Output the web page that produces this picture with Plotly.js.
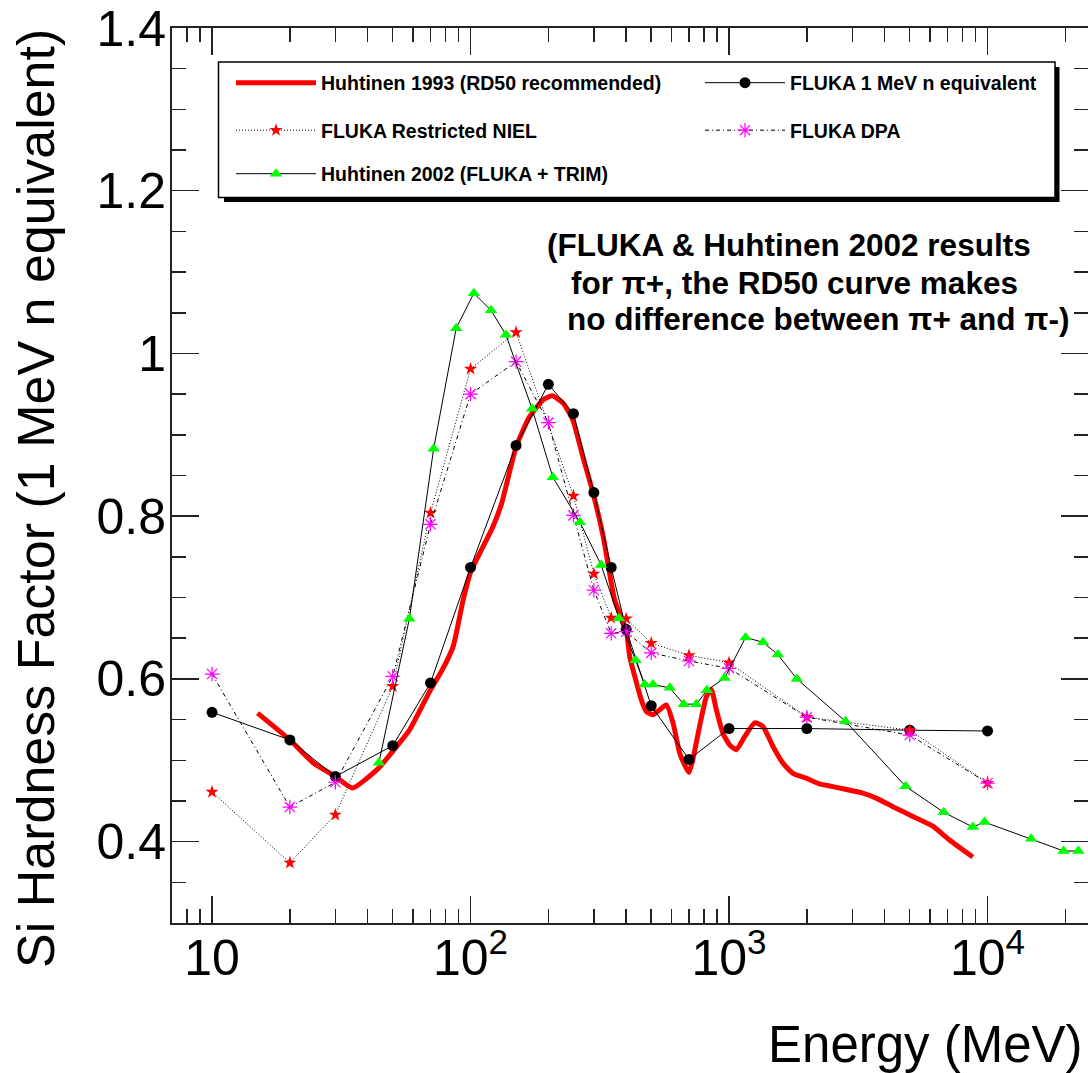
<!DOCTYPE html>
<html>
<head>
<meta charset="utf-8">
<script src="https://cdn.plot.ly/plotly-3.0.1.min.js"></script>
<style>html,body{margin:0;padding:0;background:#fff;}#chart{width:1088px;height:1073px;}</style>
</head>
<body>
<div id="chart"></div>
<script>
// ---------------- data ----------------
// Huhtinen 1993 (RD50 recommended) - red thick curve
const rd50Energy = [15, 20, 24.6, 30, 35, 44, 50, 58, 69.6, 78, 85.7, 93.6, 100, 122, 132, 150, 169, 191, 207, 228, 249, 272, 298, 326, 361, 400, 413, 432, 458, 479, 508, 539, 572, 607, 644, 684, 700, 720, 769, 817, 854, 893, 948, 1005, 1067, 1149, 1256, 1353, 1479, 1616, 1766, 1990, 2239, 2676, 3293, 3707, 4301, 5140, 6140, 7125, 8770];
const rd50Factor = [0.558, 0.525, 0.497, 0.480, 0.466, 0.490, 0.511, 0.537, 0.585, 0.612, 0.640, 0.697, 0.731, 0.787, 0.816, 0.885, 0.922, 0.943, 0.948, 0.939, 0.918, 0.873, 0.828, 0.775, 0.697, 0.660, 0.627, 0.603, 0.574, 0.560, 0.556, 0.562, 0.568, 0.546, 0.509, 0.490, 0.485, 0.497, 0.5415, 0.578, 0.587, 0.562, 0.533, 0.519, 0.513, 0.529, 0.546, 0.5415, 0.517, 0.4965, 0.484, 0.478, 0.471, 0.466, 0.4597, 0.4535, 0.443, 0.431, 0.419, 0.402, 0.381];

// FLUKA 1 MeV n equivalent - black circles
const fluka1MeVEnergy = [10, 20, 30, 50, 70, 100, 150, 200, 250, 300, 350, 400, 500, 700, 1000, 2000, 5000, 10000];
const fluka1MeVFactor = [0.559, 0.525, 0.480, 0.518, 0.595, 0.737, 0.887, 0.962, 0.926, 0.829, 0.737, 0.661, 0.567, 0.501, 0.539, 0.539, 0.537, 0.536];

// FLUKA Restricted NIEL - red stars
const nielEnergy = [10, 20, 30, 50, 70, 100, 150, 250, 300, 350, 400, 500, 700, 1000, 2000, 5000, 10000];
const nielFactor = [0.461, 0.374, 0.433, 0.591, 0.804, 0.981, 1.026, 0.825, 0.729, 0.675, 0.674, 0.644, 0.629, 0.620, 0.553, 0.537, 0.472];

// FLUKA DPA - magenta asterisks
const dpaEnergy = [10, 20, 30, 50, 70, 100, 150, 200, 250, 300, 350, 400, 500, 700, 1000, 2000, 5000, 10000];
const dpaFactor = [0.606, 0.4425, 0.473, 0.603, 0.790, 0.950, 0.990, 0.915, 0.801, 0.709, 0.656, 0.658, 0.632, 0.622, 0.613, 0.553, 0.531, 0.472];

// Huhtinen 2002 (FLUKA + TRIM) - green triangles
const h2002Energy = [44.2, 58, 72, 88, 103, 120, 137, 173, 208, 265, 320, 375, 435, 472, 508, 590, 668, 747, 821, 961, 1159, 1353, 1545, 1830, 2820, 4820, 6770, 8770, 9730, 14740, 19700, 22460];
const h2002Factor = [0.497, 0.674, 0.883, 1.031, 1.074, 1.053, 1.023, 0.932, 0.848, 0.7925, 0.740, 0.6746, 0.623, 0.593, 0.593, 0.589, 0.569, 0.569, 0.586, 0.601, 0.651, 0.645, 0.630, 0.600, 0.548, 0.468, 0.436, 0.418, 0.424, 0.4036, 0.3885, 0.3885];

// series names
const seriesNames = ["Huhtinen 1993 (RD50 recommended)", "FLUKA 1 MeV n equivalent", "FLUKA Restricted NIEL", "FLUKA DPA", "Huhtinen 2002 (FLUKA + TRIM)"];

// axis ticks
const xTickVals = [10, 100, 1000, 10000];
const xTickText = ["10", "10<sup>2</sup>", "10<sup>3</sup>", "10<sup>4</sup>"];
const xMinorVals = [8, 9, 20, 30, 40, 50, 60, 70, 80, 90, 200, 300, 400, 500, 600, 700, 800, 900, 2000, 3000, 4000, 5000, 6000, 7000, 8000, 9000, 20000];

const noteLines = ["(FLUKA & Huhtinen 2002 results", "for \u03c0+, the RD50 curve makes", "no difference between \u03c0+ and \u03c0-)"];

// ---------------- layout helpers (pixel -> paper) ----------------
const L = 172, T = 28, W = 916, H = 895;
const xp = px => (px - L) / W;
const yp = py => (T + H - py) / H;

const FONT = "'Liberation Sans', Arial, Helvetica, sans-serif";
const legFont = {family: FONT, size: 19.5, color: '#000', weight: 'bold'};

const traces = [
  {x: rd50Energy, y: rd50Factor, name: seriesNames[0], mode: 'lines', legend: 'legend',
   line: {color: '#ff0000', width: 5, shape: 'spline', smoothing: 0.5}},
  {x: fluka1MeVEnergy, y: fluka1MeVFactor, name: seriesNames[1], mode: 'lines+markers', legend: 'legend2',
   line: {color: '#000', width: 1}, marker: {symbol: 'circle', size: 11, color: '#000'}},
  {x: nielEnergy, y: nielFactor, name: seriesNames[2], mode: 'lines+markers', legend: 'legend3',
   line: {color: '#000', width: 1, dash: '1px,2px'}, marker: {symbol: 'star', size: 10, color: '#ff0000', line: {width: 0}}},
  {x: dpaEnergy, y: dpaFactor, name: seriesNames[3], mode: 'lines+markers', legend: 'legend4',
   line: {color: '#000', width: 1, dash: '4px,3px,1px,3px'}, marker: {symbol: 'asterisk-open', size: 12, color: '#ff00ff', line: {color: '#ff00ff', width: 1.2}}},
  {x: h2002Energy, y: h2002Factor, name: seriesNames[4], mode: 'lines+markers', legend: 'legend5',
   line: {color: '#000', width: 1}, marker: {symbol: 'triangle-up', size: 11, color: '#00ff00', line: {width: 0}}}
];

function leg(pxLeft, pyCenter) {
  return {x: xp(pxLeft), y: yp(pyCenter), xanchor: 'left', yanchor: 'middle', orientation: 'h',
          itemwidth: 80, font: legFont, bgcolor: 'rgba(0,0,0,0)', borderwidth: 0};
}

const annFontNote = {family: FONT, size: 31.5, color: '#000', weight: 'bold'};

const layout = {
  width: 1088, height: 1073,
  margin: {l: L, r: 1088 - L - W, t: T, b: 1073 - T - H},
  paper_bgcolor: '#fff', plot_bgcolor: '#fff',
  showlegend: true,
  font: {family: FONT, color: '#000'},
  xaxis: {
    type: 'log', range: [Math.log10(7.0), Math.log10(7.0) + W / 258.5],
    tickmode: 'array', tickvals: xTickVals, ticktext: xTickText,
    ticks: 'inside', ticklen: 27, tickwidth: 1.5, tickcolor: '#222',
    minor: {tickmode: 'array', tickvals: xMinorVals, ticks: 'inside', ticklen: 14, tickwidth: 1.5, tickcolor: '#222', showgrid: false},
    showline: true, linecolor: '#222', linewidth: 2, mirror: 'ticks',
    showgrid: false, zeroline: false,
    tickfont: {family: FONT, size: 50, color: '#000'}, ticklabelstandoff: -10
  },
  yaxis: {
    range: [0.3, 1.4], tickmode: 'linear', tick0: 0, dtick: 0.2,
    ticks: 'inside', ticklen: 27, tickwidth: 1.5, tickcolor: '#222',
    minor: {dtick: 0.05, ticks: 'inside', ticklen: 14, tickwidth: 1.5, tickcolor: '#222', showgrid: false},
    showline: true, linecolor: '#222', linewidth: 2, mirror: 'ticks',
    showgrid: false, zeroline: false,
    tickfont: {family: FONT, size: 50, color: '#000'}, ticklabelstandoff: -6
  },
  legend: leg(231, 83),
  legend2: leg(700, 83),
  legend3: leg(231, 130.5),
  legend4: leg(700, 130.5),
  legend5: leg(231, 174),
  shapes: [
    {type: 'rect', xref: 'paper', yref: 'paper', x0: xp(224), x1: xp(1059.5), y0: yp(202), y1: yp(67),
     fillcolor: '#000', line: {width: 0}, layer: 'above'},
    {type: 'rect', xref: 'paper', yref: 'paper', x0: xp(218.5), x1: xp(1055), y0: yp(197.5), y1: yp(62),
     fillcolor: '#fff', line: {color: '#000', width: 1.5}, layer: 'above'}
  ],
  annotations: [
    {text: noteLines[0], xref: 'paper', yref: 'paper', x: xp(545), y: yp(256 - 10.8), xanchor: 'left', yanchor: 'middle', showarrow: false, font: annFontNote},
    {text: noteLines[1], xref: 'paper', yref: 'paper', x: xp(569), y: yp(294 - 10.8), xanchor: 'left', yanchor: 'middle', showarrow: false, font: annFontNote},
    {text: noteLines[2], xref: 'paper', yref: 'paper', x: xp(565), y: yp(330 - 10.8), xanchor: 'left', yanchor: 'middle', showarrow: false, font: annFontNote},
    {text: 'Energy (MeV)', xref: 'paper', yref: 'paper', x: xp(1085), y: yp(1062 - 17.9), xanchor: 'right', yanchor: 'middle', showarrow: false,
     font: {family: FONT, size: 51, color: '#000'}},
    {text: 'Si Hardness Factor (1 MeV n equivalent)', xref: 'paper', yref: 'paper', x: xp(36.5), y: yp(498.5), xanchor: 'center', yanchor: 'middle',
     textangle: -90, showarrow: false, font: {family: FONT, size: 52, color: '#000'}}
  ]
};

Plotly.newPlot('chart', traces, layout, {displayModeBar: false, staticPlot: true});
</script>
</body>
</html>
